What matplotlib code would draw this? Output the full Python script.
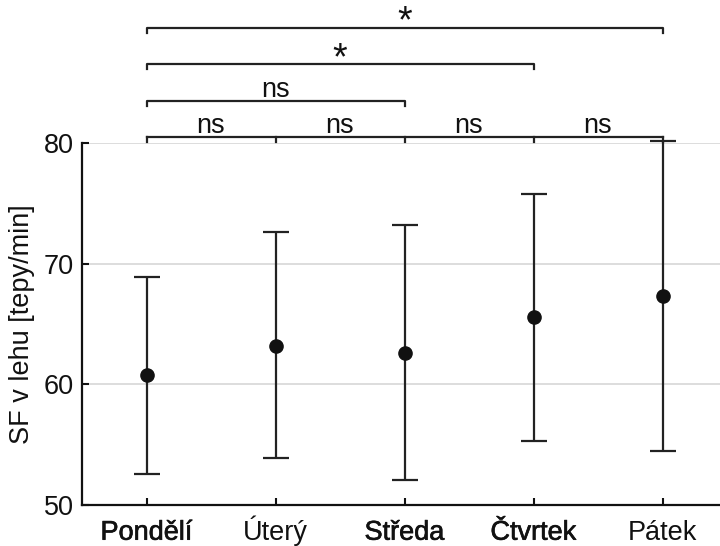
import matplotlib
matplotlib.use("Agg")
import matplotlib.pyplot as plt
import matplotlib.patheffects as pe
from matplotlib.transforms import offset_copy

plt.rcParams['font.family'] = ['Liberation Sans', 'DejaVu Sans']

days = ['Pondělí', 'Úterý', 'Středa', 'Čtvrtek', 'Pátek']
heavy_days = ['Pondělí', 'Středa', 'Čtvrtek']
means = [60.8, 63.2, 62.6, 65.6, 67.35]
upper = [68.9, 72.6, 73.2, 75.8, 80.15]
lower = [52.6, 53.9, 52.1, 55.3, 54.5]

# comparisons
pairs_base = ['ns', 'ns', 'ns', 'ns']
long_pairs = [(0, 2, 'ns', 83.5), (0, 3, '*', 86.55), (0, 4, '*', 89.55)]
base_height = 80.5

ylabel = 'SF v lehu [tepy/min]'
yticks = [50, 60, 70, 80]

fig = plt.figure(figsize=(7.2, 5.46), dpi=100)
ax = fig.add_axes([82/720, 41/546, 645/720, 362/546])

xs = list(range(1, len(days) + 1))
err_lo = [m - l for m, l in zip(means, lower)]
err_hi = [u - m for m, u in zip(means, upper)]
ax.errorbar(xs, means, yerr=[err_lo, err_hi], fmt='o', color='#111111',
            ecolor='#222222', elinewidth=1.6, capsize=9.5, capthick=1.6,
            markersize=9.5, zorder=3, clip_on=False)

ax.set_xlim(0.5, 5.5)
ax.set_ylim(50, 80)
ax.set_yticks(yticks)
ax.set_xticks(xs)
ax.set_xticklabels(days)
ax.tick_params(axis='both', direction='in', length=5, width=1.5,
               labelsize=19.5, colors='#111111')
ax.tick_params(axis='y', pad=6)
ax.tick_params(axis='x', pad=25)
for lab in ax.get_xticklabels():
    lab.set_verticalalignment('baseline')
    if lab.get_text() in heavy_days:
        lab.set_path_effects([pe.withStroke(linewidth=0.45, foreground='#111111')])
ax.set_ylabel(ylabel, fontsize=19.5, color='#111111', labelpad=6)
ax.yaxis.grid(True, color='#dadada', linewidth=1.3)
ax.set_axisbelow(True)
for s in ['top', 'right']:
    ax.spines[s].set_visible(False)
for s in ['left', 'bottom']:
    ax.spines[s].set_linewidth(1.6)
    ax.spines[s].set_color('#111111')

drop = 0.4
lc = '#222222'
lw = 1.6
# base row
ax.plot([xs[0], xs[-1]], [base_height, base_height], color=lc, lw=lw, clip_on=False)
for x in xs:
    ax.plot([x, x], [base_height, base_height - drop], color=lc, lw=lw, clip_on=False)
for k, lab in enumerate(pairs_base):
    xm = (xs[k] + xs[k + 1]) / 2
    tr = offset_copy(ax.transData, fig=fig, x=0, y=4, units='dots')
    ax.text(xm, base_height, lab, ha='center', va='baseline', fontsize=19.5,
            color='#111111', transform=tr, clip_on=False)

for i, j, lab, h in long_pairs:
    ax.plot([xs[i], xs[i], xs[j], xs[j]], [h - drop, h, h, h - drop],
            color=lc, lw=lw, clip_on=False)
    xm = (xs[i] + xs[j]) / 2
    if lab == '*':
        tr = offset_copy(ax.transData, fig=fig, x=0, y=-5, units='dots')
        ax.text(xm, h, lab, ha='center', va='baseline', fontsize=27,
                color='#111111', transform=tr, clip_on=False)
    else:
        tr = offset_copy(ax.transData, fig=fig, x=0, y=4, units='dots')
        ax.text(xm, h, lab, ha='center', va='baseline', fontsize=19.5,
                color='#111111', transform=tr, clip_on=False)

fig.savefig('out.png', dpi=100)
